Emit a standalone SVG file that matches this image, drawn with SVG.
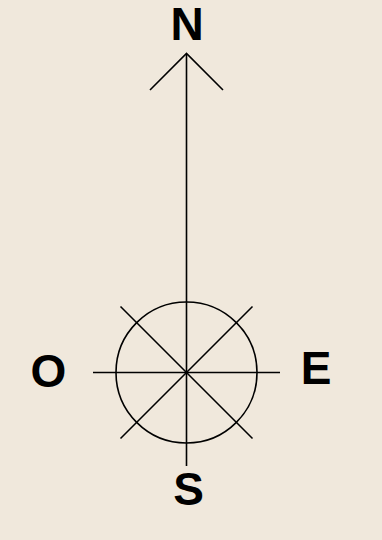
<svg xmlns="http://www.w3.org/2000/svg" width="382" height="540" viewBox="0 0 382 540">
<style>
.l{stroke:#000;stroke-width:1.6;fill:none}
.t{font-family:"Liberation Sans",Arial,sans-serif;font-weight:bold;font-size:46px;fill:#000;text-anchor:middle}
</style>
<rect width="382" height="540" fill="#F0E8DC"/>
<g id="connectors">
<line class="l" x1="186.5" y1="54" x2="186.5" y2="466"/>
<polyline class="l" points="150,90 186.5,53.5 223,90"/>
<line class="l" x1="93" y1="372.5" x2="280" y2="372.5"/>
<line class="l" x1="120.5" y1="306.5" x2="252.5" y2="438.5"/>
<line class="l" x1="252.5" y1="306.5" x2="120.5" y2="438.5"/>
</g>
<g id="rose">
<circle class="l" cx="186.5" cy="372.5" r="70.5"/>
</g>
<g id="north"><text class="t" x="187" y="39.5">N</text></g>
<g id="west"><text class="t" x="48.5" y="387">O</text></g>
<g id="east"><text class="t" x="316" y="384">E</text></g>
<g id="south"><text class="t" x="188.5" y="505">S</text></g>
</svg>
